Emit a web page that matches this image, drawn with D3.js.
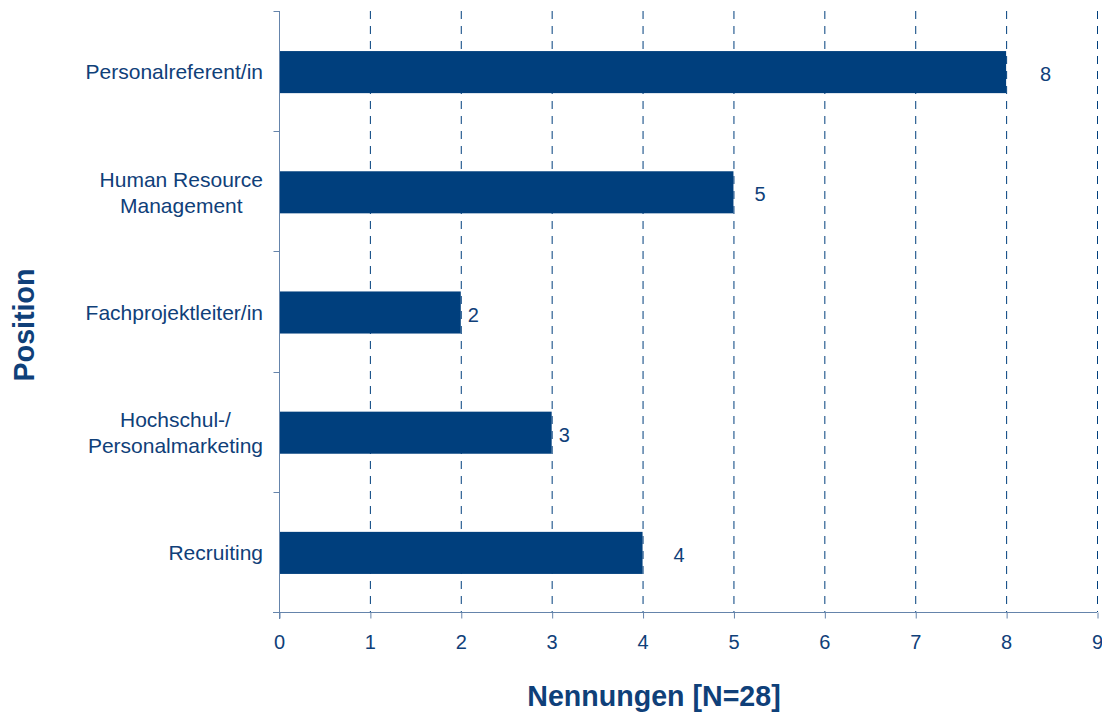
<!DOCTYPE html>
<html>
<head>
<meta charset="utf-8">
<script src="https://cdn.jsdelivr.net/npm/d3@7"></script>
<style>
  body { margin: 0; background: #fff; }
  svg { display: block; font-family: "Liberation Sans", Arial, sans-serif; }
</style>
</head>
<body>
<script>
// values
const categories = [
  ["Personalreferent/in"],
  ["Human Resource", "Management"],
  ["Fachprojektleiter/in"],
  ["Hochschul-/", "Personalmarketing"],
  ["Recruiting"]
];
const counts = [8, 5, 2, 3, 4];
const xTicks = [0, 1, 2, 3, 4, 5, 6, 7, 8, 9];
const xTitle = "Nennungen [N=28]";
const yTitle = "Position";
// extra gap between bar end and its label (px), as placed in the original
const labelGap = [34, 21, 7, 7, 31];

const width = 1102, height = 712;
const barColor = "#003f7d", textColor = "#0f4079", axisColor = "#6584ab";

const svg = d3.select("body").append("svg")
  .attr("width", width)
  .attr("height", height);

const x = d3.scaleLinear().domain([0, 9]).range([279, 1097]);
const y = d3.scaleBand()
  .domain(d3.range(categories.length))
  .range([11, 612])
  .paddingInner(0.65)
  .paddingOuter(0.325);
const step = y.step();

// dashed gridlines
svg.append("g")
  .selectAll("line")
  .data(xTicks.filter(d => d > 0))
  .join("line")
  .attr("x1", d => x(d) + 0.5)
  .attr("x2", d => x(d) + 0.5)
  .attr("y1", 11)
  .attr("y2", 612)
  .attr("stroke", barColor)
  .attr("stroke-width", 1)
  .attr("stroke-dasharray", "8,7");

// bars
svg.append("g")
  .selectAll("rect")
  .data(counts)
  .join("rect")
  .attr("x", x(0))
  .attr("y", (d, i) => y(i) + 1)
  .attr("width", d => x(d) - x(0))
  .attr("height", y.bandwidth())
  .attr("fill", barColor);

// value labels
svg.append("g")
  .selectAll("text")
  .data(counts)
  .join("text")
  .attr("x", (d, i) => x(d) + labelGap[i])
  .attr("y", (d, i) => y(i) + y.bandwidth() / 2 + 3)
  .attr("dy", "0.35em")
  .attr("font-size", 20)
  .attr("fill", textColor)
  .text(d => d);

// x axis
const xAxis = svg.append("g")
  .attr("transform", `translate(0,612.5)`)
  .call(d3.axisBottom(x).tickValues(xTicks).tickSize(6).tickPadding(16).tickFormat(d3.format("d")));
xAxis.select(".domain").attr("stroke", axisColor).attr("d", `M273,0H${x(9)}`);
xAxis.selectAll(".tick line").attr("stroke", axisColor).attr("transform", "translate(0.5,0)");
xAxis.selectAll(".tick text")
  .attr("font-size", 20)
  .attr("font-family", "Liberation Sans, Arial, sans-serif")
  .attr("fill", textColor);

// y axis with ticks on band boundaries
const yAxis = svg.append("g").attr("transform", "translate(279.5,0)");
yAxis.append("line")
  .attr("y1", 11).attr("y2", 619)
  .attr("stroke", axisColor);
yAxis.selectAll(".btick")
  .data(d3.range(categories.length + 1))
  .join("line")
  .attr("class", "btick")
  .attr("x1", -6).attr("x2", 0)
  .attr("y1", i => Math.round(11 + i * step) + 0.5)
  .attr("y2", i => Math.round(11 + i * step) + 0.5)
  .attr("stroke", axisColor);

// category labels (multi-line, centred block, right-aligned to axis)
const cat = svg.append("g")
  .selectAll("text")
  .data(categories)
  .join("text")
  .attr("font-size", 21)
  .attr("fill", textColor)
  .attr("text-anchor", "middle")
  .attr("transform", (d, i) => `translate(0,${y(i) + y.bandwidth() / 2 + 1})`);

cat.each(function(lines) {
  const t = d3.select(this);
  const lh = 26;
  // measure widest line to right-align block
  const widths = lines.map(l => {
    const s = t.append("tspan").text(l);
    const w = s.node().getComputedTextLength();
    s.remove();
    return w;
  });
  const cx = 263 - d3.max(widths) / 2;
  lines.forEach((l, k) => {
    t.append("tspan")
      .attr("x", cx)
      .attr("y", (k - (lines.length - 1) / 2) * lh)
      .attr("dy", "0.35em")
      .text(l);
  });
});

// axis titles
svg.append("text")
  .attr("x", 654)
  .attr("y", 706)
  .attr("text-anchor", "middle")
  .attr("font-size", 28.6)
  .attr("font-weight", "bold")
  .attr("fill", textColor)
  .text(xTitle);

svg.append("text")
  .attr("transform", "translate(34,325) rotate(-90)")
  .attr("text-anchor", "middle")
  .attr("font-size", 28.6)
  .attr("font-weight", "bold")
  .attr("fill", textColor)
  .text(yTitle);
</script>
</body>
</html>
